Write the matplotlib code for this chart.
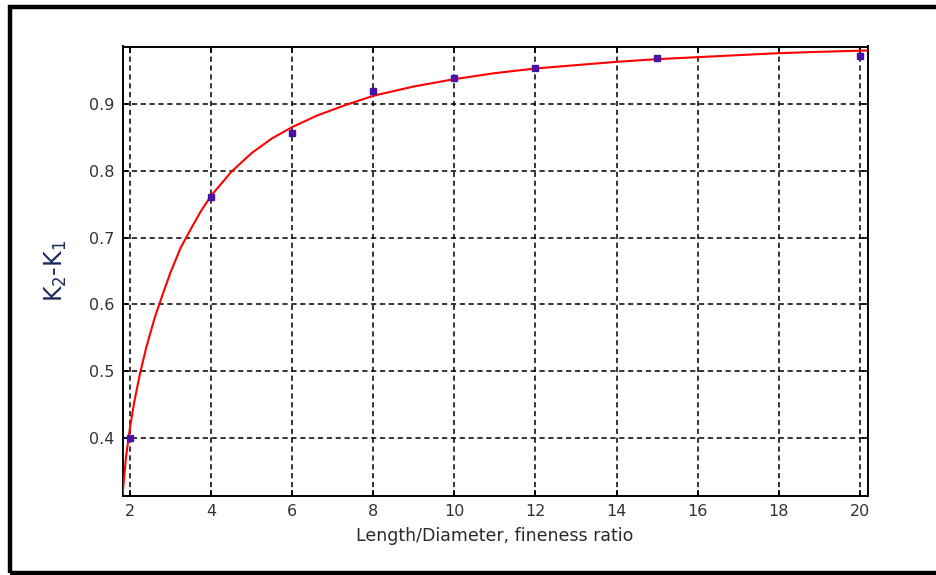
import matplotlib
matplotlib.use("Agg")
import matplotlib.pyplot as plt
from matplotlib.patches import Rectangle

# Measured points
x_pts = [2, 4, 6, 8, 10, 12, 15, 20]
y_pts = [0.400, 0.761, 0.857, 0.920, 0.940, 0.955, 0.969, 0.972]

# Fitted curve
x_curve = [1.82, 1.90, 2.00, 2.10, 2.25, 2.40, 2.60, 2.80, 3.00, 3.25, 3.50, 3.75,
           4.00, 4.50, 5.00, 5.50, 6.00, 6.60, 7.26, 8.00, 9.00, 10.0, 11.0, 12.0,
           13.0, 14.0, 15.0, 16.0, 17.0, 18.0, 19.0, 20.2]
y_curve = [0.316, 0.370, 0.415, 0.452, 0.497, 0.535, 0.578, 0.614, 0.648, 0.685, 0.713, 0.740,
           0.763, 0.799, 0.827, 0.849, 0.866, 0.883, 0.898, 0.913, 0.927, 0.938, 0.947, 0.954,
           0.959, 0.964, 0.968, 0.971, 0.974, 0.977, 0.979, 0.981]

x_ticks = [2, 4, 6, 8, 10, 12, 14, 16, 18, 20]
y_ticks = [0.4, 0.5, 0.6, 0.7, 0.8, 0.9]

plt.rcParams['font.family'] = ['DejaVu Sans']
plt.rcParams['mathtext.default'] = 'regular'

fig = plt.figure(figsize=(9.37, 5.75), dpi=100)
ax = fig.add_axes([122.7 / 937, 1 - 495.5 / 575, (867.5 - 122.7) / 937, (495.5 - 46.5) / 575])

ax.set_axisbelow(True)
ax.grid(True, color='black', linestyle=(0, (3.4, 2.4)), linewidth=1.1)
ax.plot(x_curve, y_curve, color='red', linewidth=1.5, zorder=3)
ax.plot(x_pts, y_pts, linestyle='none', marker='s', markersize=4.5,
        color='#4a10a8', zorder=4)

ax.set_xlim(1.82, 20.19)
ax.set_ylim(0.313, 0.987)
ax.set_xticks(x_ticks)
ax.set_xticklabels([str(t) for t in x_ticks])
ax.set_yticks(y_ticks)
ax.set_yticklabels([f"{t:.1f}" for t in y_ticks])

ax.tick_params(direction='in', length=4, width=1.2, top=True, right=True,
               labelsize=11.5, labelcolor='#333333', pad=6)
for s in ax.spines.values():
    s.set_linewidth(1.4)
    s.set_color('black')

ax.set_xlabel('Length/Diameter, fineness ratio', fontsize=12.5, color='#2a2a2a', labelpad=6)
ax.set_ylabel('K$_2$-K$_1$', fontsize=17, color='#1a2a5a', labelpad=14)

# outer frame
fig.patches.append(Rectangle((10.5 / 937, 1.8 / 575), 1.2, (573.2 - 7) / 575,
                             transform=fig.transFigure, fill=False,
                             edgecolor='black', linewidth=3.2, zorder=10))

fig.savefig('out.png', dpi=100)
